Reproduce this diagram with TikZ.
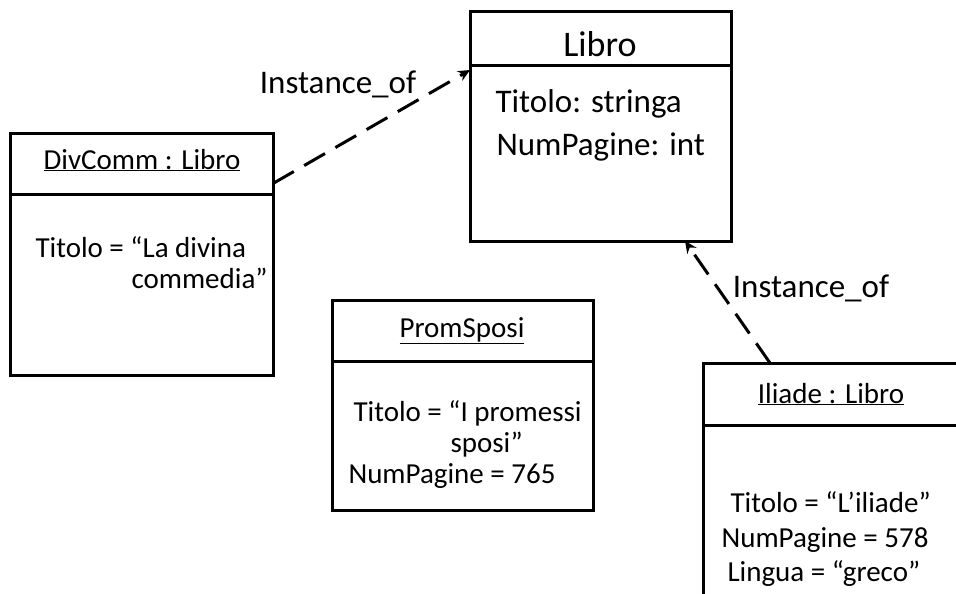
\documentclass[tikz,border=0pt]{standalone}
\usepackage{fontspec}
\setmainfont{Carlito}
\usetikzlibrary{arrows.meta,positioning}

\begin{document}
\begin{tikzpicture}[x=1pt,y=-1pt,>={Stealth[length=12pt,width=11pt]},
  kasten/.style={draw,line width=3pt,inner sep=0pt,outer sep=0pt,anchor=north west},
  kopftext/.style={anchor=base,font=\fontsize{29}{35}\selectfont},
  attr/.style={anchor=base west,font=\fontsize{29}{35}\selectfont},
  inst/.style={->,line width=3pt,dash pattern=on 24pt off 12pt}]
  \useasboundingbox (0,0) rectangle (956,594);
  \clip (0,0) rectangle (956,594);
  % Klasse
  \node[kasten,minimum width=261pt,minimum height=54pt] (libroKopf) at (470,12) {};
  \node[kasten,minimum width=261pt,minimum height=175pt,below=0pt of libroKopf] (libroBody) {};
  \node[kopftext,font=\fontsize{36}{43}\selectfont] (libroName) at (600,57) {Libro};
  \node[attr,font=\fontsize{33}{40}\selectfont] (libroA1) at (492,112) {Titolo: stringa};
  \node[attr,font=\fontsize{33}{40}\selectfont] (libroA2) at (493,155) {NumPagine: int};
  % Objekte
  \node[kasten,minimum width=263pt,minimum height=61pt] (divKopf) at (10,133) {};
  \node[kasten,minimum width=263pt,minimum height=181pt,below=0pt of divKopf] (divBody) {};
  \node[kopftext] (divName) at (142,169) {\underline{DivComm : Libro}};
  \node[attr] (divA1) at (32,257) {Titolo = “La divina};
  \node[attr] (divA2) at (128,288) {commedia”};

  \node[kasten,minimum width=261pt,minimum height=61pt] (promKopf) at (332,300) {};
  \node[kasten,minimum width=261pt,minimum height=149pt,below=0pt of promKopf] (promBody) {};
  \node[kopftext] (promName) at (462,337) {\underline{PromSposi}};
  \node[attr] (promA1) at (350,421) {Titolo = “I promessi};
  \node[attr] (promA2) at (447,452) {sposi”};
  \node[attr] (promA3) at (345,483) {NumPagine = 765};

  \node[kasten,minimum width=300pt,minimum height=62pt] (iliadeKopf) at (703,363) {};
  \node[kasten,minimum width=300pt,minimum height=250pt,below=0pt of iliadeKopf] (iliadeBody) {};
  \node[kopftext] (iliadeName) at (831,403) {\underline{Iliade : Libro}};
  \node[attr] (iliadeA1) at (727,512) {Titolo = “L’iliade”};
  \node[attr] (iliadeA2) at (718,547) {NumPagine = 578};
  \node[attr] (iliadeA3) at (724,581) {Lingua = “greco”};
  % Instanz-Pfeile
  \draw[inst] ([yshift=-20pt]divKopf.east) -- ([yshift=-4pt]libroKopf.south west);
  \draw[inst] ([xshift=67pt]iliadeKopf.north west) -- ([xshift=215pt]libroBody.south west);
  \node[anchor=base,font=\fontsize{33}{40}\selectfont] (instA) at (338,93) {Instance\_of};
  \node[anchor=base,font=\fontsize{33}{40}\selectfont] (instB) at (811,297) {Instance\_of};
\end{tikzpicture}
\end{document}
